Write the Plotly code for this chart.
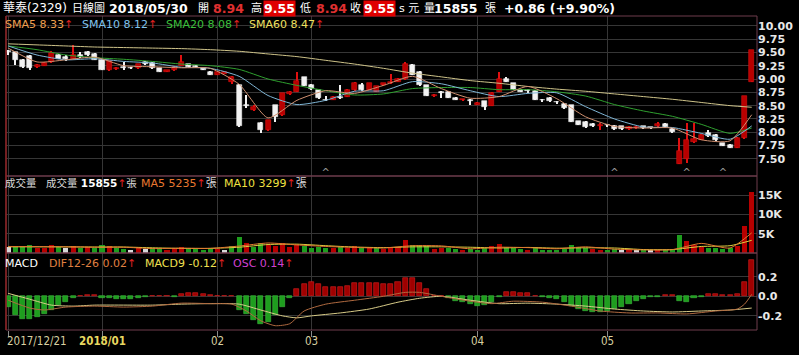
import plotly.graph_objects as go

# ---------------- data ----------------
opens  = [9.51,9.51,9.35,9.43,9.22,9.25,9.31,9.45,9.42,9.38,
          9.45,9.51,9.47,9.36,9.17,9.18,9.22,9.20,9.20,9.32,
          9.30,9.20,9.14,9.16,9.25,9.28,9.25,9.20,9.14,9.08,
          9.10,8.95,8.89,8.50,8.42,8.17,8.04,8.51,8.32,8.72,
          8.76,9.03,8.88,8.79,8.60,8.61,8.65,8.67,8.79,8.88,
          8.80,8.76,8.88,8.92,8.95,9.00,9.27,9.14,8.88,8.68,
          8.74,8.76,8.65,8.60,8.61,8.52,8.58,8.50,8.76,9.00,
          8.92,8.80,8.78,8.78,8.60,8.65,8.56,8.54,8.51,8.21,
          8.20,8.16,8.11,8.13,8.12,8.11,8.06,8.08,8.11,8.08,
          8.11,8.16,8.07,7.40,7.49,7.82,7.86,7.99,7.95,7.79,
          7.77,7.71,7.90,8.94]
closes = [9.51,9.36,9.23,9.20,9.26,9.30,9.48,9.38,9.38,9.45,
          9.41,9.45,9.36,9.17,9.33,9.21,9.20,9.20,9.28,9.28,
          9.20,9.14,9.16,9.23,9.31,9.23,9.22,9.17,9.08,9.13,
          9.13,9.04,8.11,8.50,8.48,8.04,8.23,8.29,8.73,8.76,
          8.97,8.87,8.82,8.65,8.60,8.67,8.65,8.80,8.93,8.79,
          8.92,8.86,8.92,8.95,9.00,9.29,9.08,8.88,8.69,8.70,
          8.74,8.65,8.61,8.62,8.58,8.55,8.48,8.74,9.00,8.95,
          8.80,8.76,8.78,8.61,8.60,8.58,8.56,8.45,8.20,8.14,
          8.10,8.11,8.14,8.13,8.06,8.06,8.10,8.10,8.08,8.08,
          8.15,8.10,8.00,7.65,7.85,7.88,7.94,7.93,7.85,7.75,
          7.71,7.90,8.69,9.55]
highs  = [9.55,9.51,9.37,9.45,9.28,9.31,9.52,9.46,9.45,9.64,
          9.50,9.53,9.48,9.37,9.34,9.23,9.32,9.23,9.29,9.33,
          9.31,9.21,9.17,9.24,9.45,9.29,9.27,9.21,9.15,9.14,
          9.14,9.05,8.90,8.70,8.52,8.19,8.24,8.52,8.74,8.78,
          9.14,9.04,8.90,8.80,8.69,8.69,8.88,8.81,8.94,8.92,
          8.93,8.87,8.93,9.10,9.01,9.32,9.28,9.15,8.89,8.72,
          8.78,8.77,8.66,8.63,8.62,8.57,8.59,8.75,9.14,9.03,
          8.93,8.81,8.82,8.79,8.63,8.66,8.59,8.55,8.52,8.22,
          8.21,8.17,8.18,8.16,8.13,8.12,8.11,8.11,8.12,8.10,
          8.20,8.17,8.08,7.89,8.18,8.18,7.96,8.04,7.96,7.80,
          7.78,7.91,8.69,9.55]
lows   = [9.45,9.27,9.20,9.17,9.21,9.24,9.30,9.37,9.34,9.37,
          9.40,9.43,9.35,9.16,9.15,9.17,9.17,9.18,9.19,9.27,
          9.19,9.13,9.13,9.15,9.24,9.22,9.20,9.16,9.07,9.07,
          9.09,8.90,8.10,8.45,8.40,7.98,8.02,8.20,8.31,8.70,
          8.75,8.86,8.80,8.63,8.58,8.60,8.62,8.66,8.78,8.78,
          8.79,8.75,8.87,8.91,8.94,8.99,9.07,8.87,8.68,8.67,
          8.65,8.64,8.60,8.59,8.51,8.51,8.42,8.49,8.75,8.94,
          8.79,8.75,8.74,8.60,8.57,8.57,8.54,8.44,8.19,8.13,
          8.09,8.10,8.05,8.10,8.05,8.05,8.05,8.07,8.07,8.06,
          8.10,8.09,7.99,7.40,7.42,7.80,7.85,7.92,7.84,7.74,
          7.70,7.70,7.88,8.94]
volumes = [1500,1800,1600,2000,1300,1200,2200,1500,1200,1800,
           1300,1500,1400,2200,1800,1200,1000,900,1300,1100,
           1200,1400,900,1100,1600,1200,1000,900,1300,1000,
           900,1800,4200,2500,1500,2600,2000,1800,2700,1500,
           2200,1800,1400,1500,1300,1200,1500,1400,1700,1300,
           1400,1200,1100,1300,1500,3400,2200,2000,1800,1100,
           1200,1300,1000,900,1100,900,1200,1800,2400,1600,
           1400,1100,900,1300,800,900,700,1100,2200,1500,
           1300,1000,900,800,1000,900,700,800,700,700,
           800,900,1100,4700,3000,2000,1500,1200,1300,1100,
           1400,1800,7100,15855]
osc = [-0.11,-0.19,-0.23,-0.23,-0.21,-0.18,-0.14,-0.09,-0.06,-0.02,
       0.005,0.01,0.01,-0.02,-0.02,-0.03,-0.03,-0.03,-0.02,-0.01,
       0.005,0.005,0.005,-0.005,0.02,0.03,0.03,0.025,0.015,0.005,
       0.005,0.005,-0.14,-0.18,-0.24,-0.28,-0.26,-0.19,-0.11,-0.02,
       0.07,0.13,0.15,0.13,0.10,0.10,0.10,0.11,0.14,0.14,
       0.14,0.14,0.13,0.13,0.15,0.19,0.19,0.14,0.07,0.005,
       0.005,-0.02,-0.05,-0.06,-0.08,-0.10,-0.09,-0.06,-0.005,0.04,
       0.04,0.035,0.03,0.005,-0.005,-0.02,-0.03,-0.06,-0.10,-0.13,
       -0.15,-0.16,-0.16,-0.15,-0.13,-0.11,-0.08,-0.05,-0.03,-0.01,
       -0.005,0.01,0.01,-0.05,-0.06,-0.02,-0.005,0.02,0.02,0.01,
       0.01,0.02,0.15,0.37]

# moving-average lines (index, value)
ma_idx   = [0,4,8,12,16,20,24,28,32,36,40,44,48,52,56,60,64,68,72,76,80,84,88,92,96,100,103]
sma5     = [9.58,9.32,9.36,9.41,9.25,9.23,9.21,9.20,8.90,8.27,8.60,8.78,8.73,8.88,9.05,8.82,8.64,8.67,8.86,8.63,8.29,8.11,8.08,8.08,7.86,7.84,8.33]
sma10    = [9.62,9.45,9.36,9.38,9.33,9.30,9.22,9.20,9.05,8.69,8.52,8.60,8.77,8.78,8.95,8.91,8.78,8.67,8.73,8.74,8.48,8.25,8.10,8.09,7.98,7.87,8.12]
sma20    = [9.62,9.55,9.45,9.40,9.37,9.33,9.28,9.25,9.18,9.00,8.88,8.78,8.70,8.72,8.82,8.84,8.84,8.80,8.80,8.76,8.68,8.52,8.40,8.30,8.15,7.98,8.08]
sma60    = [9.66,9.64,9.62,9.60,9.59,9.58,9.57,9.55,9.52,9.47,9.42,9.35,9.28,9.20,9.11,9.04,8.97,8.92,8.86,8.81,8.77,8.72,8.67,8.62,8.56,8.50,8.47]
vol_ma5  = [1700,1650,1600,1500,1500,1150,1250,1200,1800,2600,2100,1700,1450,1300,1900,1850,1100,1500,1400,1100,1600,1000,800,860,2500,1300,5235]
vol_ma10 = [1600,1600,1600,1550,1550,1350,1200,1200,1500,2200,2300,1900,1550,1400,1600,1600,1500,1300,1450,1250,1350,1300,900,900,1700,1900,3299]
macd_idx = [0,3,5,8,12,16,20,24,28,31,33,35,37,39,41,44,48,52,55,57,60,64,67,70,74,78,82,86,90,94,98,101,102,103]
dif      = [-0.04,-0.12,-0.14,-0.11,-0.10,-0.11,-0.10,-0.07,-0.075,-0.08,-0.15,-0.25,-0.30,-0.28,-0.15,-0.08,-0.04,0.0,0.04,0.04,0.0,-0.05,-0.075,-0.05,-0.06,-0.10,-0.15,-0.17,-0.17,-0.18,-0.15,-0.13,-0.08,0.02]
macd9_idx = [0,3,6,9,12,20,24,28,32,35,38,40,42,46,50,54,57,60,64,68,72,76,80,84,88,92,96,100,103]
macd9    = [0.03,-0.03,-0.09,-0.10,-0.09,-0.09,-0.08,-0.075,-0.08,-0.14,-0.20,-0.22,-0.20,-0.17,-0.13,-0.06,-0.02,0.0,-0.04,-0.075,-0.07,-0.08,-0.10,-0.13,-0.15,-0.16,-0.15,-0.14,-0.12]

tick_idx    = [0, 13, 29, 42, 65, 83]
tick_labels = ["2017/12/21", "2018/01", "02", "03", "04", "05"]
marker_idx  = [44, 84, 94, 99]
price_ticks = [7.50,7.75,8.00,8.25,8.50,8.75,9.00,9.25,9.50,9.75,10.00]

# ---------------- layout helpers ----------------
W, H = 799, 355
L, R, T, B = 6, 763, 16, 330
PW, PH = R - L, B - T
def px(x): return (x - L) / PW
def py(y): return (B - y) / PH

n = len(closes)
idx = list(range(n))
FONT = "DejaVu Sans, Noto Sans CJK TC, sans-serif"
RED_UP = "#b80000"
WHITE_DN = "#f2f2f2"

up = [c > o for o, c in zip(opens, closes)]
cand_col = [RED_UP if u else WHITE_DN for u in up]
wick_col = ["#e01010" if u else "#f2f2f2" for u in up]
body_base = [min(o, c) for o, c in zip(opens, closes)]
body_h = [max(abs(c - o), 0.012) for o, c in zip(opens, closes)]
vol_col = []
for i in idx:
    prev = closes[i - 1] if i > 0 else closes[i]
    d = closes[i] - prev
    vol_col.append("#d8d8d8" if abs(d) < 1e-9 else ("#b80000" if d > 0 else "#1e9e1e"))
osc_col = ["#a00000" if v >= 0 else "#1e9e1e" for v in osc]
osc_line = ["#e02020" if v >= 0 else "#40c040" for v in osc]

fig = go.Figure()
# wicks
fig.add_trace(go.Bar(x=idx, y=[h - l for h, l in zip(highs, lows)], base=lows, width=0.16,
                     marker=dict(color=wick_col, line=dict(width=0)), xaxis="x", yaxis="y"))
# bodies
fig.add_trace(go.Bar(x=idx, y=body_h, base=body_base, width=0.7,
                     marker=dict(color=cand_col, line=dict(color=wick_col, width=0.6)), xaxis="x", yaxis="y"))
# SMA lines
for vals, col in [(sma60, "#cfc48a"), (sma20, "#2fa02f"), (sma10, "#7fb6d6"), (sma5, "#d09070")]:
    fig.add_trace(go.Scatter(x=ma_idx, y=vals, mode="lines", line=dict(color=col, width=1, shape="spline", smoothing=0.6),
                             xaxis="x", yaxis="y"))
# markers at panel bottom
fig.add_trace(go.Scatter(x=marker_idx, y=[7.22] * len(marker_idx), mode="text", text=["^"] * len(marker_idx),
                         textfont=dict(color="#9a9a9a", size=10, family=FONT), xaxis="x", yaxis="y"))
# volume
fig.add_trace(go.Bar(x=idx, y=volumes, width=0.7, marker=dict(color=vol_col, line=dict(width=0)),
                     xaxis="x2", yaxis="y2"))
for vals, col in [(vol_ma10, "#e0d040"), (vol_ma5, "#e07830")]:
    fig.add_trace(go.Scatter(x=ma_idx, y=vals, mode="lines", line=dict(color=col, width=1, shape="spline", smoothing=0.6),
                             xaxis="x2", yaxis="y2"))
# MACD
fig.add_trace(go.Bar(x=idx, y=osc, width=0.7, marker=dict(color=osc_col, line=dict(color=osc_line, width=0.6)),
                     xaxis="x3", yaxis="y3"))
fig.add_trace(go.Scatter(x=macd9_idx, y=macd9, mode="lines", line=dict(color="#d8cc88", width=1, shape="spline", smoothing=0.6),
                         xaxis="x3", yaxis="y3"))
fig.add_trace(go.Scatter(x=macd_idx, y=dif, mode="lines", line=dict(color="#b06a40", width=1, shape="spline", smoothing=0.6),
                         xaxis="x3", yaxis="y3"))

xr = [-0.3, 103.73]
grid = "#363636"
xcommon = dict(range=xr, tickmode="array", tickvals=tick_idx, showgrid=True, gridcolor=grid, gridwidth=1,
               zeroline=False, showline=False, showticklabels=False, fixedrange=True)
d_macd = [0, 77 / PH]
d_vol = [77 / PH, 154 / PH]
d_main = [154 / PH, 1]
tickfont = dict(family="DejaVu Sans", size=11, color="#e8e8e8", weight="bold")

fig.update_layout(
    width=W, height=H, margin=dict(l=L, r=W - R, t=T, b=H - B, pad=0),
    paper_bgcolor="#000000", plot_bgcolor="#000000", showlegend=False, barmode="overlay", bargap=0,
    font=dict(family=FONT, color="#ffffff"),
    xaxis=dict(**xcommon, anchor="y"),
    xaxis2=dict(**xcommon, anchor="y2", matches="x"),
    xaxis3=dict(**xcommon, anchor="y3", matches="x", ticks="outside", ticklen=6, tickcolor="#8a8a8a"),
    yaxis=dict(domain=d_main, range=[7.18, 10.182], side="right", tickmode="array", tickvals=price_ticks,
               ticktext=[f"{v:.2f}" for v in price_ticks], showgrid=True, gridcolor=grid, zeroline=False,
               tickfont=tickfont, ticks="", fixedrange=True),
    yaxis2=dict(domain=d_vol, range=[0, 20000], side="right", tickmode="array", tickvals=[5000, 10000, 15000],
                ticktext=["5K", "10K", "15K"], showgrid=True, gridcolor=grid, zeroline=False,
                tickfont=tickfont, fixedrange=True),
    yaxis3=dict(domain=d_macd, range=[-0.344, 0.442], side="right", tickmode="array", tickvals=[-0.2, 0.0, 0.2],
                ticktext=["-0.2", "0.0", "0.2"], showgrid=True, gridcolor=grid, zeroline=False,
                tickfont=tickfont, fixedrange=True),
)

border = "#6e3c4c"
shapes = []
for y0, y1 in [(T, 176), (176, 253), (253, B)]:
    shapes.append(dict(type="rect", xref="paper", yref="paper", x0=0, x1=1, y0=py(y1), y1=py(y0),
                       line=dict(color=border, width=1), fillcolor="rgba(0,0,0,0)", layer="above"))
shapes.append(dict(type="line", xref="paper", yref="paper", x0=0, x1=0, y0=0, y1=1,
                   line=dict(color="#8a2020", width=1.5), layer="above"))
fig.update_layout(shapes=shapes)

ann = []
def txt(x, y, s, color="#ffffff", size=12, bold=False, bg=None, anchor="left"):
    d = dict(xref="paper", yref="paper", x=px(x), y=py(y), text=(f"<b>{s}</b>" if bold else s),
             showarrow=False, xanchor=anchor, yanchor="middle",
             font=dict(family=FONT, size=size, color=color))
    if bg:
        d["bgcolor"] = bg
        d["borderpad"] = 0
    ann.append(d)

# header row
txt(1, 8, "華泰(2329)", size=12)
txt(71, 8, "日線圖", size=11)
txt(108, 8, "2018/05/30", size=12.5, bold=True)
txt(198, 8, "開", size=11)
txt(213, 8, "8.94", color="#e03030", size=12.5, bold=True)
txt(251, 8, "高", size=11)
txt(265, 8, "9.55", color="#ffffff", size=12.5, bold=True, bg="#e00000")
txt(300, 8, "低", size=11)
txt(316, 8, "8.94", color="#e03030", size=12.5, bold=True)
txt(351, 8, "收", size=11)
txt(366, 8, "9.55", color="#ffffff", size=12.5, bold=True, bg="#e00000")
txt(400, 8, "s 元", size=11)
txt(425, 8, "量", size=11)
txt(435, 8, "15855", size=12.5, bold=True)
txt(487, 8, "張", size=11)
txt(506, 8, "+0.86 (+9.90%)", size=12.5, bold=True)

# SMA legend
arrow = "<span style='color:#e02020'>↑</span>"
txt(3, 24, "SMA5 8.33" + arrow, color="#f0a050", size=11)
txt(81, 24, "SMA10 8.12" + arrow, color="#80c4ee", size=11)
txt(165, 24, "SMA20 8.08" + arrow, color="#3cc03c", size=11)
txt(249, 24, "SMA60 8.47" + arrow, color="#f0e060", size=11)

# volume legend
txt(3, 183, "成交量", color="#d8d8d8", size=10.5)
txt(44, 183, "成交量 <b><span style='color:#ffffff'>15855</span></b>" + arrow + "張", color="#d8d8d8", size=10.5)
txt(140, 183, "MA5 5235" + arrow + "<span style='color:#d8d8d8'>張</span>", color="#e87830", size=11)
txt(224, 183, "MA10 3299" + arrow + "<span style='color:#d8d8d8'>張</span>", color="#f0e040", size=11)

# MACD legend
txt(3, 263, "MACD", color="#ffffff", size=11)
txt(47, 263, "DIF12-26 0.02" + arrow, color="#e08040", size=11)
txt(144, 263, "MACD9 -0.12" + arrow, color="#f0e050", size=11)
txt(233, 263, "OSC 0.14" + arrow, color="#d040d0", size=11)

# x-axis labels
for i, lab in zip(tick_idx, tick_labels):
    bold = lab == "2018/01"
    ann.append(dict(xref="x3", yref="paper", x=i, y=py(341), text=(f"<b>{lab}</b>" if bold else lab),
                    showarrow=False, xanchor=("left" if i == 0 else "center"), yanchor="middle",
                    xshift=(-3 if i == 0 else 0),
                    font=dict(family="Liberation Sans Narrow, DejaVu Sans Condensed, sans-serif", size=11.5,
                              color=("#e8d860" if bold else "#d8d0a0"))))
fig.update_layout(annotations=ann)

fig.write_html("out.html")
